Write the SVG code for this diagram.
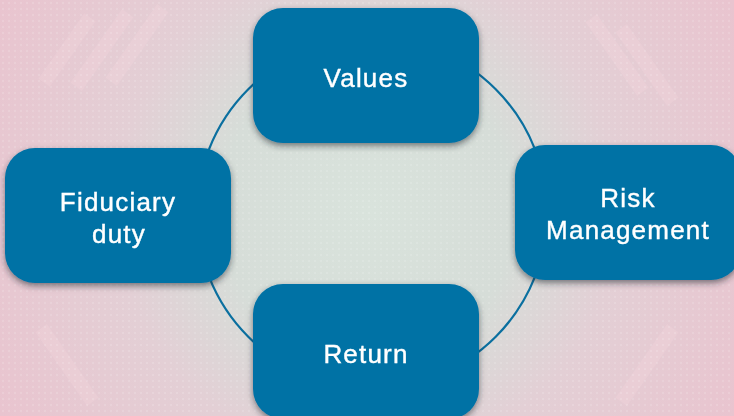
<svg xmlns="http://www.w3.org/2000/svg" width="734" height="416" viewBox="0 0 734 416">
  <defs>
    <radialGradient id="bg" cx="367" cy="210" r="420" gradientUnits="userSpaceOnUse">
      <stop offset="0" stop-color="#d9e3dc"/>
      <stop offset="0.35" stop-color="#d6ddd8"/>
      <stop offset="0.6" stop-color="#e3cfd5"/>
      <stop offset="1" stop-color="#e9c4cf"/>
    </radialGradient>
    <pattern id="weave" width="6" height="6" patternUnits="userSpaceOnUse">
      <circle cx="3" cy="3" r="1.2" fill="#ffffff" opacity="0.15"/>
    </pattern>
    <filter id="shadow" x="-10%" y="-10%" width="120%" height="130%">
      <feDropShadow dx="0" dy="3" stdDeviation="3" flood-color="#1a2a30" flood-opacity="0.55"/>
    </filter>
    <style>
      .box { fill: #0072a5; filter: url(#shadow); }
      .lbl { fill: #ffffff; font-family: "Liberation Sans", Arial, sans-serif; font-size: 26px; letter-spacing: 1.2px; text-anchor: middle; stroke: #ffffff; stroke-width: 0.4px; }
      .ring { fill: none; stroke: #0a6f9f; stroke-width: 2.2; }
    </style>
  </defs>
  <rect x="0" y="0" width="734" height="416" fill="url(#bg)"/>
  <g opacity="0.3">
    <rect x="60" y="10" width="14" height="80" fill="#f3d6de" transform="rotate(35 67 50)"/>
    <rect x="95" y="5" width="14" height="90" fill="#f3d6de" transform="rotate(35 102 50)"/>
    <rect x="130" y="0" width="14" height="90" fill="#f3d6de" transform="rotate(35 137 45)"/>
    <rect x="610" y="10" width="14" height="90" fill="#f3d6de" transform="rotate(-35 617 55)"/>
    <rect x="640" y="20" width="14" height="90" fill="#f3d6de" transform="rotate(-35 647 65)"/>
    <rect x="60" y="320" width="14" height="90" fill="#f3d6de" transform="rotate(-35 67 365)"/>
    <rect x="640" y="320" width="14" height="90" fill="#f3d6de" transform="rotate(35 647 365)"/>
  </g>
  <rect x="0" y="0" width="734" height="416" fill="url(#weave)"/>
  <g id="connectors">
    <circle class="ring" cx="372" cy="213" r="175"/>
  </g>
  <g id="node-values">
    <rect class="box" x="253" y="8" width="226" height="135" rx="30" ry="30"/>
    <text class="lbl" x="366" y="87">Values</text>
  </g>
  <g id="node-fiduciary">
    <rect class="box" x="5" y="148" width="226" height="135" rx="30" ry="30"/>
    <text class="lbl" x="118" y="211">Fiduciary</text>
    <text class="lbl" x="119" y="243">duty</text>
  </g>
  <g id="node-risk">
    <rect class="box" x="515" y="145" width="226" height="135" rx="30" ry="30"/>
    <text class="lbl" x="628" y="207">Risk</text>
    <text class="lbl" x="628" y="239">Management</text>
  </g>
  <g id="node-return">
    <rect class="box" x="253" y="284" width="226" height="135" rx="30" ry="30"/>
    <text class="lbl" x="366" y="363">Return</text>
  </g>
</svg>
